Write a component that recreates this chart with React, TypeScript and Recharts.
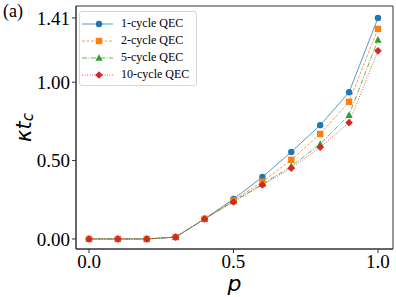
import React from "react";
import { LineChart, Line, XAxis, YAxis, ReferenceArea } from "recharts";

const pValues = [0, 0.1, 0.2, 0.3, 0.4, 0.5, 0.6, 0.7, 0.8, 0.9, 1.0];
const cycle1 = [0.0, 0.0, 0.0, 0.012, 0.128, 0.255, 0.395, 0.555, 0.726, 0.936, 1.41];
const cycle2 = [0.0, 0.0, 0.0, 0.012, 0.128, 0.246, 0.365, 0.505, 0.67, 0.875, 1.34];
const cycle5 = [0.0, 0.0, 0.0, 0.012, 0.128, 0.24, 0.35, 0.463, 0.605, 0.79, 1.27];
const cycle10 = [0.0, 0.0, 0.0, 0.012, 0.128, 0.236, 0.344, 0.452, 0.585, 0.742, 1.2];
const xTicks = [0, 0.5, 1.0];
const yTicks = [0, 0.5, 1.0, 1.41];

const X_DOMAIN: [number, number] = [-0.045, 1.052];
const Y_DOMAIN: [number, number] = [-0.064, 1.486];

const SERIF = "Liberation Serif, Times New Roman, serif";
const MATH = "DejaVu Sans, sans-serif";

const data = pValues.map((p, i) => ({
  p,
  c1: cycle1[i],
  c2: cycle2[i],
  c5: cycle5[i],
  c10: cycle10[i],
}));

type Shape = "circle" | "square" | "triangle" | "diamond";

const series: { key: string; name: string; color: string; dash?: string; shape: Shape }[] = [
  { key: "c1", name: "1-cycle QEC", color: "#1f77b4", shape: "circle" },
  { key: "c2", name: "2-cycle QEC", color: "#ff7f0e", dash: "3 1.5", shape: "square" },
  { key: "c5", name: "5-cycle QEC", color: "#2ca02c", dash: "5 1.5 1 1.5", shape: "triangle" },
  { key: "c10", name: "10-cycle QEC", color: "#d62728", dash: "1 1.5", shape: "diamond" },
];

function Marker({ cx, cy, shape, color }: { cx: number; cy: number; shape: Shape; color: string }) {
  if (shape === "circle") return <circle cx={cx} cy={cy} r={3.2} fill={color} />;
  if (shape === "square")
    return <rect x={cx - 3.2} y={cy - 3.2} width={6.4} height={6.4} fill={color} />;
  if (shape === "triangle")
    return <polygon points={`${cx},${cy - 3.8} ${cx + 3.6},${cy + 2.8} ${cx - 3.6},${cy + 2.8}`} fill={color} />;
  return (
    <polygon points={`${cx},${cy - 3.8} ${cx + 3.8},${cy} ${cx},${cy + 3.8} ${cx - 3.8},${cy}`} fill={color} />
  );
}

function LegendBox() {
  return (
    <div
      style={{
        position: "absolute",
        left: 79,
        top: 11,
        border: "1px solid #d6d6d6",
        borderRadius: 3,
        background: "white",
        width: 116,
        padding: "3px 0 2px 0",
        fontFamily: SERIF,
        fontSize: 12,
        color: "#000",
      }}
    >
      {series.map((s) => (
        <div key={s.key} style={{ display: "flex", alignItems: "center", height: 17 }}>
          <svg width={40} height={12} style={{ marginLeft: 1 }}>
            <line
              x1={1}
              y1={6}
              x2={32}
              y2={6}
              stroke={s.color}
              strokeWidth={1}
              strokeOpacity={0.75}
              strokeDasharray={s.dash}
            />
            <Marker cx={18} cy={6} shape={s.shape} color={s.color} />
          </svg>
          <span style={{ whiteSpace: "nowrap" }}>{s.name}</span>
        </div>
      ))}
    </div>
  );
}

function YLabel({ viewBox }: any) {
  const cx = 24;
  const cy = viewBox.y + viewBox.height / 2;
  return (
    <text
      x={cx}
      y={cy}
      transform={`rotate(-90, ${cx}, ${cy})`}
      textAnchor="middle"
      dominantBaseline="central"
      fill="#000"
      fontFamily={MATH}
      fontStyle="italic"
      fontSize={21}
    >
      κt
      <tspan fontSize={15} dy={4}>
        c
      </tspan>
    </text>
  );
}

const tickStyle = { fill: "#000", fontSize: 19, fontFamily: SERIF, style: { fontFamily: SERIF } };

export default function App() {
  return (
    <div style={{ position: "absolute", left: 0, top: 0, width: 396, height: 297, background: "white" }}>
      <LineChart
        width={396}
        height={297}
        data={data}
        margin={{ top: 6, right: 3, bottom: 0, left: 0 }}
      >
        <XAxis
          dataKey="p"
          type="number"
          domain={X_DOMAIN}
          ticks={xTicks}
          tickFormatter={(v: number) => v.toFixed(1)}
          allowDataOverflow
          height={48}
          axisLine={{ stroke: "#333" }}
          tickLine={{ stroke: "#333" }}
          tickSize={4}
          tick={tickStyle}
          label={{
            value: "p",
            position: "insideBottom",
            offset: 6,
            style: { fill: "#000", fontSize: 22, fontStyle: "italic", fontFamily: MATH },
          }}
        />
        <YAxis
          type="number"
          domain={Y_DOMAIN}
          ticks={yTicks}
          tickFormatter={(v: number) => v.toFixed(2)}
          allowDataOverflow
          width={76}
          axisLine={{ stroke: "#333" }}
          tickLine={{ stroke: "#333" }}
          tickSize={4}
          tick={tickStyle}
          label={<YLabel />}
        />
        <ReferenceArea
          x1={X_DOMAIN[0]}
          x2={X_DOMAIN[1]}
          y1={Y_DOMAIN[0]}
          y2={Y_DOMAIN[1]}
          fill="none"
          stroke="#333"
          strokeWidth={1}
          ifOverflow="visible"
        />
        {series.map((s) => (
          <Line
            key={s.key}
            dataKey={s.key}
            name={s.name}
            stroke={s.color}
            strokeWidth={1}
            strokeOpacity={0.75}
            strokeDasharray={s.dash}
            isAnimationActive={false}
            dot={(props: any) => (
              <Marker key={`${s.key}-${props.index}`} cx={props.cx} cy={props.cy} shape={s.shape} color={s.color} />
            )}
            activeDot={false}
          />
        ))}
      </LineChart>
      <LegendBox />
      <div
        style={{
          position: "absolute",
          left: 3,
          top: 1,
          fontFamily: SERIF,
          fontSize: 18,
          color: "#000",
        }}
      >
        (a)
      </div>
    </div>
  );
}
